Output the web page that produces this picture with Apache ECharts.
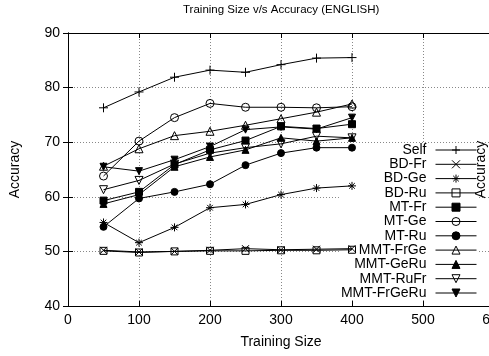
<!DOCTYPE html>
<html>
<head>
<meta charset="utf-8">
<script src="https://cdn.jsdelivr.net/npm/echarts@6/dist/echarts.min.js"></script>
<style>
html,body{margin:0;padding:0;background:#fff;}
#chart{width:489px;height:356px;}
</style>
</head>
<body>
<div id="chart"></div>
<script>
// ---- data ----
const titleText = 'Training Size v/s Accuracy (ENGLISH)';
const xName = 'Training Size';
const yName = 'Accuracy';
const sizes = [50, 100, 150, 200, 250, 300, 350, 400];
const seriesNames = ['Self', 'BD-Fr', 'BD-Ge', 'BD-Ru', 'MT-Fr', 'MT-Ge', 'MT-Ru', 'MMT-FrGe', 'MMT-GeRu', 'MMT-RuFr', 'MMT-FrGeRu'];
const self      = [76.3, 79.2, 81.9, 83.2, 82.8, 84.2, 85.4, 85.5];
const bdFr      = [50.2, 49.9, 50.0, 50.2, 50.5, 50.3, 50.4, 50.5];
const bdGe      = [55.3, 51.6, 54.4, 58.0, 58.6, 60.4, 61.6, 62.0];
const bdRu      = [50.1, 49.8, 50.0, 50.1, 50.1, 50.2, 50.2, 50.3];
const mtFr      = [59.3, 60.9, 65.9, 68.6, 70.3, 72.9, 72.5, 73.3];
const mtGe      = [63.8, 70.2, 74.5, 77.1, 76.4, 76.4, 76.3, 76.5];
const mtRu      = [54.5, 59.7, 60.9, 62.3, 65.8, 68.0, 69.0, 69.0];
const mmtFrGe   = [65.6, 68.8, 71.2, 72.0, 73.1, 74.3, 75.5, 77.0];
const mmtGeRu   = [58.7, 60.4, 65.5, 67.3, 68.6, 70.8, 70.2, 70.8];
const mmtRuFr   = [61.3, 63.0, 66.0, 68.0, 69.0, 69.7, 71.1, 70.8];
const mmtFrGeRu = [65.5, 64.7, 66.8, 69.2, 72.3, 72.8, 72.4, 74.5];
const xTicks = [0, 100, 200, 300, 400, 500, 600];
const yTicks = [40, 50, 60, 70, 80, 90];

const values = [self, bdFr, bdGe, bdRu, mtFr, mtGe, mtRu, mmtFrGe, mmtGeRu, mmtRuFr, mmtFrGeRu];

// ---- marker styles ----
const PLUS = 'path://M5 0L5 10M0 5L10 5';
const CROSS = 'path://M0 0L10 10M10 0L0 10';
const STAR = 'path://M5 0L5 10M0 5L10 5M1.5 1.5L8.5 8.5M8.5 1.5L1.5 8.5';
const DOWN = 'path://M0 0L10 0L5 9Z';
const markers = [
  {symbol: PLUS, size: 9, fill: 'none'},
  {symbol: CROSS, size: 7, fill: 'none'},
  {symbol: STAR, size: 8, fill: 'none'},
  {symbol: 'rect', size: 7, fill: 'none'},
  {symbol: 'rect', size: 7, fill: '#000'},
  {symbol: 'circle', size: 8, fill: 'none'},
  {symbol: 'circle', size: 7, fill: '#000'},
  {symbol: 'triangle', size: 8, fill: 'none'},
  {symbol: 'triangle', size: 7, fill: '#000'},
  {symbol: DOWN, size: 8, fill: 'none'},
  {symbol: DOWN, size: 7, fill: '#000'}
];

const FONT = 'Liberation Sans, Arial, sans-serif';

const series = seriesNames.map((name, i) => ({
  name: name,
  type: 'line',
  data: sizes.map((s, j) => [s, values[i][j]]),
  symbol: markers[i].symbol,
  symbolSize: markers[i].size,
  showAllSymbol: true,
  animation: false,
  lineStyle: {color: '#000', width: 1},
  itemStyle: {color: markers[i].fill, borderColor: '#000', borderWidth: 1},
  emphasis: {disabled: true},
  z: 2
}));

const chart = echarts.init(document.getElementById('chart'), null, {renderer: 'canvas'});
chart.setOption({
  animation: false,
  backgroundColor: '#fff',
  title: {
    text: titleText,
    left: 183,
    top: 4,
    padding: 0,
    textStyle: {fontFamily: FONT, fontSize: 11.5, fontWeight: 'normal', color: '#000'}
  },
  grid: {left: 68, top: 33, right: -5, bottom: 50, outerBoundsMode: 'none', containLabel: false},
  legend: {
    orient: 'vertical',
    align: 'right',
    right: 12,
    top: 143,
    padding: [0, 0, 0, 2],
    itemGap: 0.3,
    itemWidth: 41,
    itemHeight: 10,
    z: 1,
    backgroundColor: '#fff',
    selectedMode: false,
    data: seriesNames,
    itemStyle: {borderColor: '#000', borderWidth: 1},
    lineStyle: {color: '#000', width: 1},
    textStyle: {fontFamily: FONT, fontSize: 14, color: '#000', lineHeight: 14, padding: [0, 4, 0, 0]}
  },
  xAxis: [{
    type: 'value', min: xTicks[0], max: xTicks[xTicks.length - 1], interval: 100,
    name: xName, nameLocation: 'middle', nameGap: 29,
    nameTextStyle: {fontFamily: FONT, fontSize: 14, color: '#000'},
    axisLine: {lineStyle: {color: '#000', width: 1}},
    axisTick: {inside: true, length: 5, lineStyle: {color: '#000'}},
    axisLabel: {fontFamily: FONT, fontSize: 14, color: '#000', margin: 7, hideOverlap: false},
    splitLine: {show: true, lineStyle: {color: '#888', type: [1, 2], width: 1}},
    z: 0
  }, {
    type: 'value', position: 'top', min: xTicks[0], max: xTicks[xTicks.length - 1], interval: 100,
    axisLine: {show: true, lineStyle: {color: '#000', width: 1}},
    axisTick: {inside: true, length: 5, lineStyle: {color: '#000'}},
    axisLabel: {show: false},
    splitLine: {show: false}
  }],
  yAxis: [{
    type: 'value', min: yTicks[0], max: yTicks[yTicks.length - 1], interval: 10,
    name: yName, nameLocation: 'middle', nameGap: 46,
    nameTextStyle: {fontFamily: FONT, fontSize: 14, color: '#000'},
    axisLine: {show: true, lineStyle: {color: '#000', width: 1}},
    axisTick: {show: true, inside: true, length: 5, lineStyle: {color: '#000'}},
    axisLabel: {fontFamily: FONT, fontSize: 14, color: '#000', margin: 8},
    splitLine: {show: true, lineStyle: {color: '#888', type: [1, 2], width: 1}},
    z: 0
  }, {
    type: 'value', position: 'right', min: yTicks[0], max: yTicks[yTicks.length - 1], interval: 10,
    name: yName, nameLocation: 'middle', nameGap: -20,
    nameTextStyle: {fontFamily: FONT, fontSize: 14, color: '#000'},
    axisLine: {show: true, lineStyle: {color: '#000', width: 1}},
    axisTick: {show: true, inside: true, length: 5, lineStyle: {color: '#000'}},
    axisLabel: {show: false},
    splitLine: {show: false},
    z: 5
  }],
  series: series
});
</script>
</body>
</html>
